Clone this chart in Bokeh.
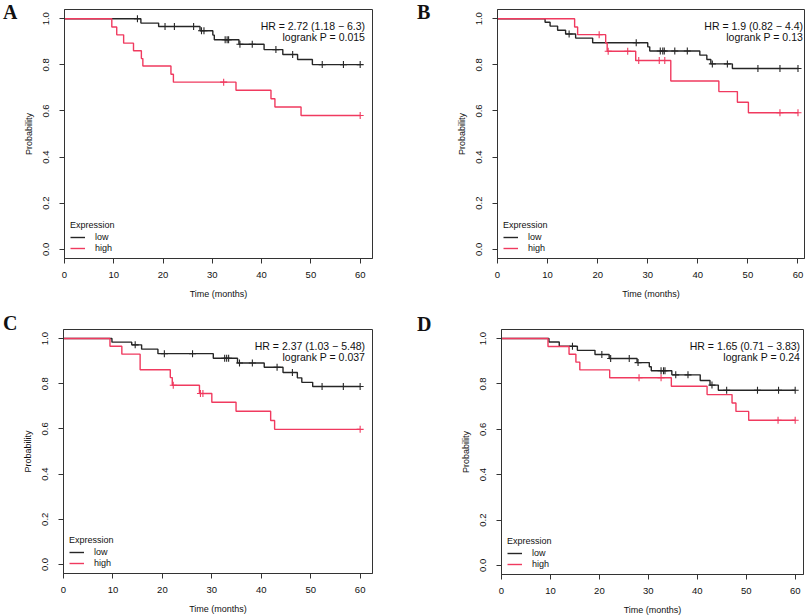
from bokeh.plotting import figure
from bokeh.layouts import row, column
from bokeh.models import Legend, LegendItem, FixedTicker, Range1d, NumeralTickFormatter, Label, Div
from bokeh.embed import file_html
from bokeh.resources import INLINE

# ---------------- data ----------------
x_ticks = [0, 10, 20, 30, 40, 50, 60]
y_ticks = [0.0, 0.2, 0.4, 0.6, 0.8, 1.0]
panel_letters = ["A", "B", "C", "D"]
hr_texts = ["HR = 2.72 (1.18 \u2212 6.3)", "HR = 1.9 (0.82 \u2212 4.4)",
            "HR = 2.37 (1.03 \u2212 5.48)", "HR = 1.65 (0.71 \u2212 3.83)"]
p_texts = ["logrank P = 0.015", "logrank P = 0.13", "logrank P = 0.037", "logrank P = 0.24"]
legend_title = "Expression"
group_names = ["low", "high"]
follow_up_end = 60

# Panel A
a_low_t = [15.5, 19.1, 27.5, 30.1, 30.4, 35.4, 40.5, 44.3, 47.3, 50.3]
a_low_s = [0.981, 0.966, 0.948, 0.929, 0.909, 0.889, 0.866, 0.845, 0.823, 0.801]
a_low_c = [14.8, 20.4, 22.3, 26.2, 27.8, 28.3, 32.6, 33.0, 33.3, 35.6, 38.1, 42.9, 46.3, 52.3, 56.6, 60.0]
a_high_t = [9.6, 10.6, 12.0, 14.0, 15.6, 15.9, 21.6, 22.1, 34.8, 41.9, 42.7, 48.0]
a_high_s = [0.964, 0.930, 0.894, 0.861, 0.827, 0.795, 0.759, 0.725, 0.690, 0.653, 0.617, 0.580]
a_high_c = [32.3, 60.0]

# Panel B
b_low_t = [9.5, 10.5, 12.0, 13.6, 15.6, 19.0, 30.0, 30.4, 40.4, 41.8, 42.6, 46.9]
b_low_s = [0.985, 0.968, 0.950, 0.934, 0.916, 0.896, 0.878, 0.860, 0.842, 0.823, 0.804, 0.784]
b_low_c = [14.3, 27.7, 32.5, 33.0, 33.3, 35.4, 37.9, 42.9, 45.9, 52.0, 56.4, 60.0]
b_high_t = [15.4, 16.0, 21.6, 21.9, 27.6, 34.6, 44.2, 47.9, 50.1]
b_high_s = [0.964, 0.931, 0.895, 0.859, 0.819, 0.730, 0.684, 0.638, 0.592]
b_high_c = [20.3, 22.1, 26.0, 28.2, 32.3, 33.4, 56.4, 60.0]

# Panel C
c_low_t = [9.8, 13.8, 15.8, 19.1, 30.3, 35.2, 40.6, 44.4, 47.3, 48.2, 50.4]
c_low_s = [0.984, 0.972, 0.953, 0.933, 0.913, 0.892, 0.873, 0.850, 0.826, 0.806, 0.788]
c_low_c = [14.5, 20.4, 26.1, 32.6, 33.0, 33.4, 35.6, 38.2, 43.2, 46.3, 52.3, 56.6, 60.0]
c_high_t = [9.4, 11.8, 15.5, 21.6, 22.0, 27.5, 30.0, 34.9, 41.9, 42.7]
c_high_s = [0.966, 0.931, 0.862, 0.827, 0.793, 0.757, 0.718, 0.678, 0.637, 0.598]
c_high_c = [22.2, 27.7, 28.2, 60.0]

# Panel D
d_low_t = [9.7, 11.8, 15.5, 19.1, 22.0, 27.7, 30.2, 30.6, 34.8, 40.6, 42.6, 44.3]
d_low_s = [0.985, 0.966, 0.948, 0.930, 0.912, 0.894, 0.876, 0.858, 0.840, 0.815, 0.795, 0.772]
d_low_c = [14.5, 20.5, 22.3, 26.1, 27.9, 32.6, 33.1, 33.4, 35.6, 38.1, 43.0, 46.0, 52.3, 56.6, 60.0]
d_high_t = [9.5, 13.8, 15.2, 16.0, 22.1, 34.7, 42.0, 47.1, 47.9, 50.5]
d_high_s = [0.965, 0.931, 0.896, 0.862, 0.827, 0.790, 0.753, 0.716, 0.679, 0.640]
d_high_c = [28.1, 32.6, 56.5, 60.0]

# ---------------- style ----------------
FONT = "Liberation Sans"
BLACK = "#262626"
RED = "#f03a5f"
BOX = "#333333"
TXT = "#111111"


def surv_at(times, survs, t):
    s = 1.0
    for ti, si in zip(times, survs):
        if ti <= t:
            s = si
    return s


def make_panel(idx, low, high, x_end, fw, fh, bl, br, bt, bb):
    p = figure(frame_width=fw, frame_height=fh,
               min_border_left=bl, min_border_right=br,
               min_border_top=bt, min_border_bottom=bb,
               x_range=Range1d(0, x_end), y_range=Range1d(-0.04, 1.04),
               output_backend="svg", toolbar_location=None, tools="")
    p.xgrid.visible = False
    p.ygrid.visible = False
    p.outline_line_color = BOX
    p.outline_line_width = 1
    p.background_fill_color = "white"
    p.border_fill_color = "white"

    renderers = []
    for (t, s, c), color in zip([low, high], [BLACK, RED]):
        xs = [0] + list(t) + [follow_up_end]
        ys = [1.0] + list(s) + [s[-1]]
        r = p.step(xs, ys, mode="after", line_color=color, line_width=1.4)
        cy = [surv_at(t, s, ct) for ct in c]
        p.scatter(c, cy, marker="cross", size=7, line_color=color, line_width=1.1)
        renderers.append(r)

    for ax in (p.xaxis[0], p.yaxis[0]):
        ax.axis_line_color = BOX
        ax.major_tick_line_color = BOX
        ax.major_tick_out = 5
        ax.major_tick_in = 0
        ax.minor_tick_line_color = None
        ax.major_label_text_font = FONT
        ax.major_label_text_font_size = "9.5px"
        ax.major_label_text_color = TXT
        ax.axis_label_text_font = FONT
        ax.axis_label_text_font_size = "9px"
        ax.axis_label_text_font_style = "normal"
        ax.axis_label_text_color = TXT

    p.xaxis.ticker = FixedTicker(ticks=x_ticks)
    p.yaxis.ticker = FixedTicker(ticks=y_ticks)
    p.yaxis.formatter = NumeralTickFormatter(format="0.0")
    p.yaxis.major_label_orientation = "vertical"
    p.xaxis.axis_label = "Time (months)"
    p.yaxis.axis_label = "Probability"
    p.xaxis.major_label_standoff = 8
    p.xaxis.axis_label_standoff = 8
    p.yaxis.major_label_standoff = 10
    p.yaxis.axis_label_standoff = 7

    legend = Legend(items=[LegendItem(label=group_names[0], renderers=[renderers[0]]),
                           LegendItem(label=group_names[1], renderers=[renderers[1]])],
                    title=legend_title, location=(6, 5),
                    padding=0, margin=0, spacing=1,
                    glyph_width=15, glyph_height=10, label_height=10,
                    label_standoff=10, title_standoff=2,
                    label_text_font=FONT, label_text_font_size="9px",
                    label_text_color=TXT,
                    title_text_font=FONT, title_text_font_size="9px",
                    title_text_font_style="normal", title_text_color=TXT,
                    border_line_alpha=0, background_fill_alpha=0)
    p.add_layout(legend)

    p.add_layout(Label(x=61, x_units="data", y=fh - 16, y_units="screen",
                       text=hr_texts[idx], text_align="right", text_baseline="alphabetic",
                       text_font=FONT, text_font_size="10.5px", text_color=TXT))
    p.add_layout(Label(x=61, x_units="data", y=fh - 27, y_units="screen",
                       text=p_texts[idx], text_align="right", text_baseline="alphabetic",
                       text_font=FONT, text_font_size="10.5px", text_color=TXT))
    return p


def letter_div(idx, width, pad_left, pad_top):
    html = ('<div style="font-family:\'Liberation Serif\',serif;font-weight:bold;'
            'font-size:20px;line-height:20px;color:#111;'
            f'padding-left:{pad_left}px;padding-top:{pad_top}px">'
            f'{panel_letters[idx]}</div>')
    return Div(text=html, width=width, height=40, margin=0)


pA = make_panel(0, (a_low_t, a_low_s, a_low_c), (a_high_t, a_high_s, a_high_c),
                62.5, 308, 249, 47, 33, 9, 42)
pB = make_panel(1, (b_low_t, b_low_s, b_low_c), (b_high_t, b_high_s, b_high_c),
                61.3, 307, 249, 65, 5, 8, 43)
pC = make_panel(2, (c_low_t, c_low_s, c_low_c), (c_high_t, c_high_s, c_high_c),
                62.5, 309, 244, 46, 33, 28, 42)
pD = make_panel(3, (d_low_t, d_low_s, d_low_c), (d_high_t, d_high_s, d_high_c),
                61.7, 302, 245, 68, 6, 27, 42)

row1 = row(letter_div(0, 17, 3, 1.5), pA, letter_div(1, 27, 12, 1.5), pB)
row2 = row(letter_div(2, 17, 3, 11.5), pC, letter_div(3, 28, 12, 12.5), pD)
layout = column(row1, row2)
open("out.html", "w").write(file_html(layout, INLINE))
